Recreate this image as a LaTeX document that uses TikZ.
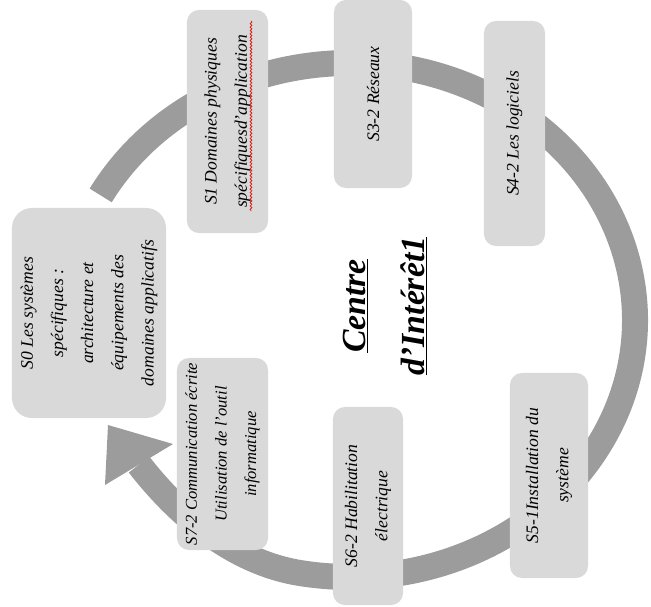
\documentclass[tikz,border=0pt]{standalone}
\usepackage{fontspec}
\setmainfont{Liberation Serif}
\usetikzlibrary{decorations.pathmorphing}
\definecolor{CycleRing}{HTML}{9C9C9C}
\definecolor{CycleBox}{HTML}{D9D9D9}
\definecolor{CycleSpell}{HTML}{E0201B}

\begin{document}
\begin{tikzpicture}[
  x=0.025cm,y=-0.025cm,
  module/.style={rectangle,rounded corners=3mm,fill=CycleBox,rotate=90,align=center,inner sep=1pt,font=\fontsize{12.5}{21.5}\selectfont\itshape},
  ring/.style={draw=CycleRing,line width=0.65cm},
  head/.style={fill=CycleRing},
  title/.style={rotate=90,align=center,font=\fontsize{24}{42}\selectfont\bfseries\itshape}
]
\useasboundingbox (0,0) rectangle (651,606);
% ring first, the modules sit on top of it
\draw[ring] (100.7,195.4) arc[start angle=-151,end angle=100,x radius=285,y radius=257]
  .. controls (231,562) and (176,512) .. (139,464.5);
\fill[head] (108,425) -- (173,444) -- (105,485) -- cycle;
% modules
\node[module,minimum width=5.25cm,minimum height=3.85cm,rounded corners=5mm] (s0) at (89,313) {S0 Les systèmes\\spécifiques :\\architecture et\\équipements des\\domaines applicatifs};
\node[module,minimum width=5.575cm,minimum height=2.025cm] (s1) at (227.5,121.5) {S1 Domaines physiques\\spécifiquesd’application};
\node[module,minimum width=4.7cm,minimum height=1.95cm] (s32) at (373,94) {S3-2 Réseaux};
\node[module,minimum width=5.625cm,minimum height=1.525cm] (s42) at (514.5,133.5) {S4-2 Les logiciels};
\node[module,minimum width=5.125cm,minimum height=1.95cm] (s51) at (549,475.5) {S5-1Installation du\\système};
\node[module,minimum width=4.95cm,minimum height=1.75cm] (s62) at (368,506) {S6-2 Habilitation\\électrique};
\node[module,minimum width=4.8cm,minimum height=2.275cm,font=\fontsize{11.8}{21}\selectfont\itshape] (s72) at (222.5,454) {S7-2 Communication écrite\\Utilisation de l’outil\\informatique};
% spelling mark under the second line of S1
\draw[CycleSpell,line width=0.6pt,decorate,decoration={snake,amplitude=0.6pt,segment length=2.4pt}] (251,21) -- (251,211);
% centre
\node[title] (centre) at (385,306) {\underline{Centre}\\\underline{d’Intérêt1}};
\end{tikzpicture}
\end{document}
